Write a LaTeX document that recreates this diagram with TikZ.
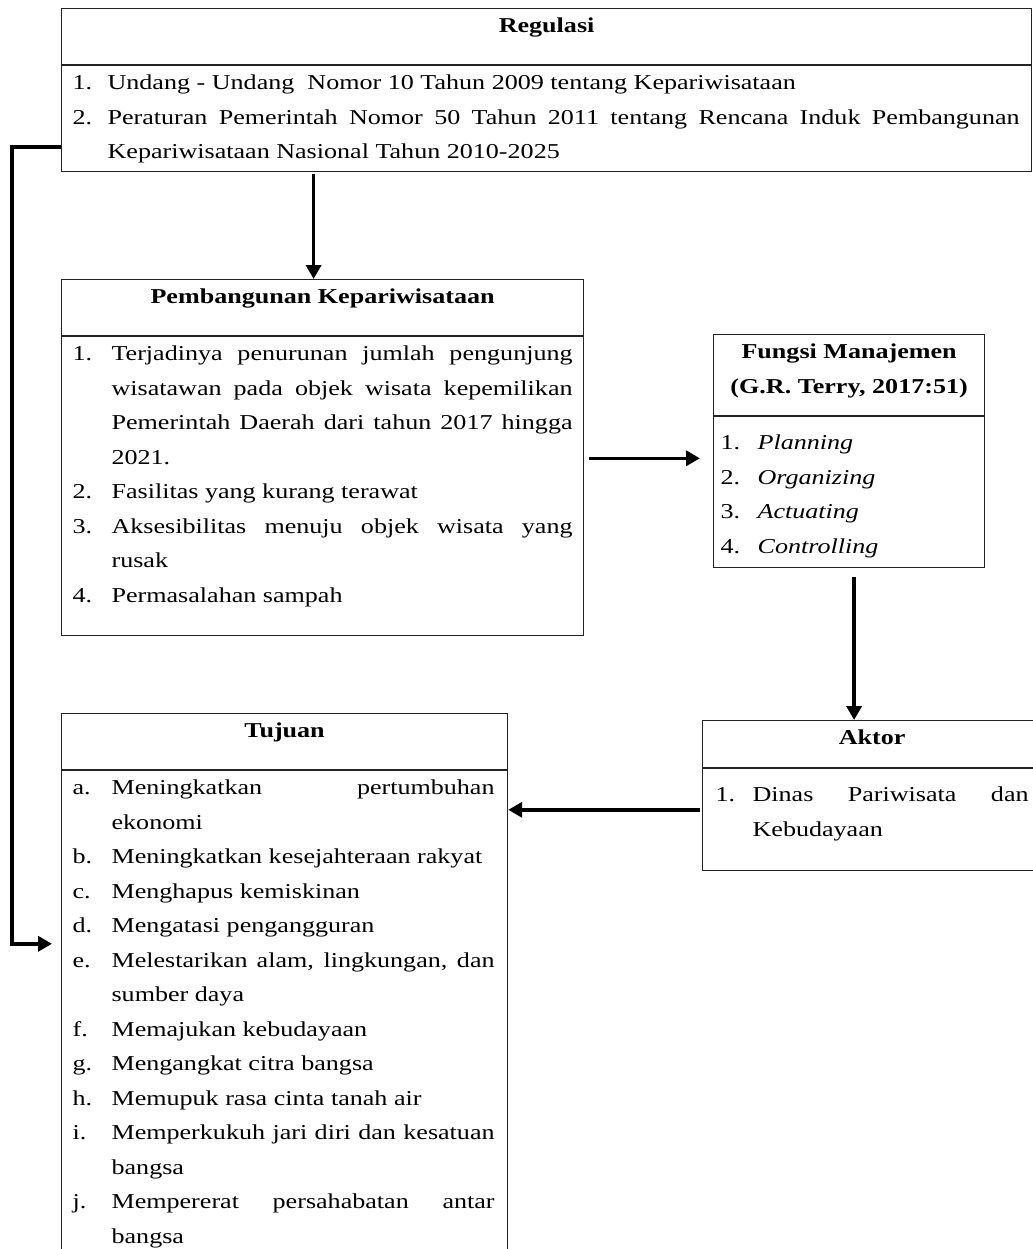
\documentclass[tikz,border=0pt]{standalone}
\usepackage{fontspec}
\setmainfont[FakeStretch=1.23]{Liberation Serif}
\usetikzlibrary{arrows.meta,positioning}

\definecolor{boxedge}{RGB}{35,35,35}
\definecolor{arrcol}{RGB}{0,0,0}

% one pixel of the sketch
\newlength\px \setlength\px{0.5pt}
\newlength\lbl
\newcommand{\cardbox}[3]{\parbox[t][#2\px][t]{#1\px}{\hyphenpenalty=10000 \exhyphenpenalty=10000 \tolerance=9999 #3}}
\newcommand{\pad}[3]{\leftskip=#1\px \rightskip=#2\px \lbl=#3\px}
\newcommand{\itm}[2]{\par\hangindent=\lbl\hangafter=1\noindent\makebox[\lbl][l]{#1}\strut#2\strut\par}
\newcommand{\ttl}[1]{\centering\bfseries\strut #1\par}

\begin{document}
\begin{tikzpicture}[x=0.5pt, y=-0.5pt,
    card/.style={draw=boxedge, line width=0.6pt, inner sep=0pt, anchor=north west,
      font=\fontsize{10.6pt}{17.25pt}\selectfont},
    arr/.style={draw=arrcol, line width=1.8pt, -{Triangle[length=7pt,width=7.5pt]}}]
  \useasboundingbox (0,0) rectangle (1033,1249);

  % Regulasi
  \node[card] (reghead) at (61,8) {\cardbox{970}{56}{\ttl{Regulasi}}};
  \node[card] (regbody) at (reghead.south west) {\cardbox{970}{106}{\pad{11}{12}{35}%
    \itm{1.}{Undang - Undang\ \ Nomor 10 Tahun 2009 tentang Kepariwisataan}%
    \itm{2.}{Peraturan Pemerintah Nomor 50 Tahun 2011 tentang Rencana Induk Pembangunan\linebreak Kepariwisataan Nasional Tahun 2010-2025}}};

  % Pembangunan Kepariwisataan
  \node[card] (pembhead) at (61,279) {\cardbox{522}{56}{\ttl{Pembangunan Kepariwisataan}}};
  \node[card] (pembbody) at (pembhead.south west) {\cardbox{522}{299}{\pad{11}{11}{39}%
    \itm{1.}{Terjadinya penurunan jumlah pengunjung\linebreak wisatawan pada objek wisata kepemilikan\linebreak Pemerintah Daerah dari tahun 2017 hingga\linebreak 2021.}%
    \itm{2.}{Fasilitas yang kurang terawat}%
    \itm{3.}{Aksesibilitas menuju objek wisata yang\linebreak rusak}%
    \itm{4.}{Permasalahan sampah}}};

  % Fungsi Manajemen
  \node[card] (fungsihead) at (713,334) {\cardbox{271}{81}{\ttl{Fungsi Manajemen\\\strut(G.R. Terry, 2017:51)}}};
  \node[card] (fungsibody) at (fungsihead.south west) {\cardbox{271}{151}{\vspace*{9\px}\pad{7}{7}{37}%
    \itm{1.}{\textit{Planning}}%
    \itm{2.}{\textit{Organizing}}%
    \itm{3.}{\textit{Actuating}}%
    \itm{4.}{\textit{Controlling}}}};

  % Aktor
  \node[card] (aktorhead) at (702,720) {\cardbox{339}{47}{\ttl{Aktor}}};
  \node[card] (aktorbody) at (aktorhead.south west) {\cardbox{339}{102}{\vspace*{9\px}\pad{13}{13}{37}%
    \itm{1.}{Dinas Pariwisata dan\linebreak Kebudayaan}}};

  % Tujuan
  \node[card] (tujuanhead) at (61,713) {\cardbox{446}{56}{\ttl{Tujuan}}};
  \node[card] (tujuanbody) at (tujuanhead.south west) {\cardbox{446}{500}{\pad{11}{13}{39}%
    \itm{a.}{Meningkatkan pertumbuhan\linebreak ekonomi}%
    \itm{b.}{Meningkatkan kesejahteraan rakyat}%
    \itm{c.}{Menghapus kemiskinan}%
    \itm{d.}{Mengatasi pengangguran}%
    \itm{e.}{Melestarikan alam, lingkungan, dan\linebreak sumber daya}%
    \itm{f.}{Memajukan kebudayaan}%
    \itm{g.}{Mengangkat citra bangsa}%
    \itm{h.}{Memupuk rasa cinta tanah air}%
    \itm{i.}{Memperkukuh jari diri dan kesatuan\linebreak bangsa}%
    \itm{j.}{Mempererat persahabatan antar\linebreak bangsa}}};

  % Arrows
  \draw[arr, shorten <=2\px] ([xshift=-9\px]pembhead.north |- regbody.south) -- ([xshift=-9\px]pembhead.north);
  \draw[arr, shorten <=5\px, shorten >=13\px] ([yshift=28\px]pembbody.east) -- ([yshift=28\px]pembbody.east -| fungsibody.west);
  \draw[arr, shorten <=9\px] ([xshift=5\px]fungsibody.south) -- ([xshift=5\px]fungsibody.south |- aktorhead.north);
  \draw[arr, shorten <=2\px] ([yshift=10\px]aktorbody.west) -- ([yshift=10\px]aktorbody.west -| tujuanbody.east);
  \draw[arr, shorten >=9\px] ([yshift=-28\px]regbody.west) -- ++(-49\px,0) |- ([yshift=77\px]tujuanbody.west);
\end{tikzpicture}
\end{document}
